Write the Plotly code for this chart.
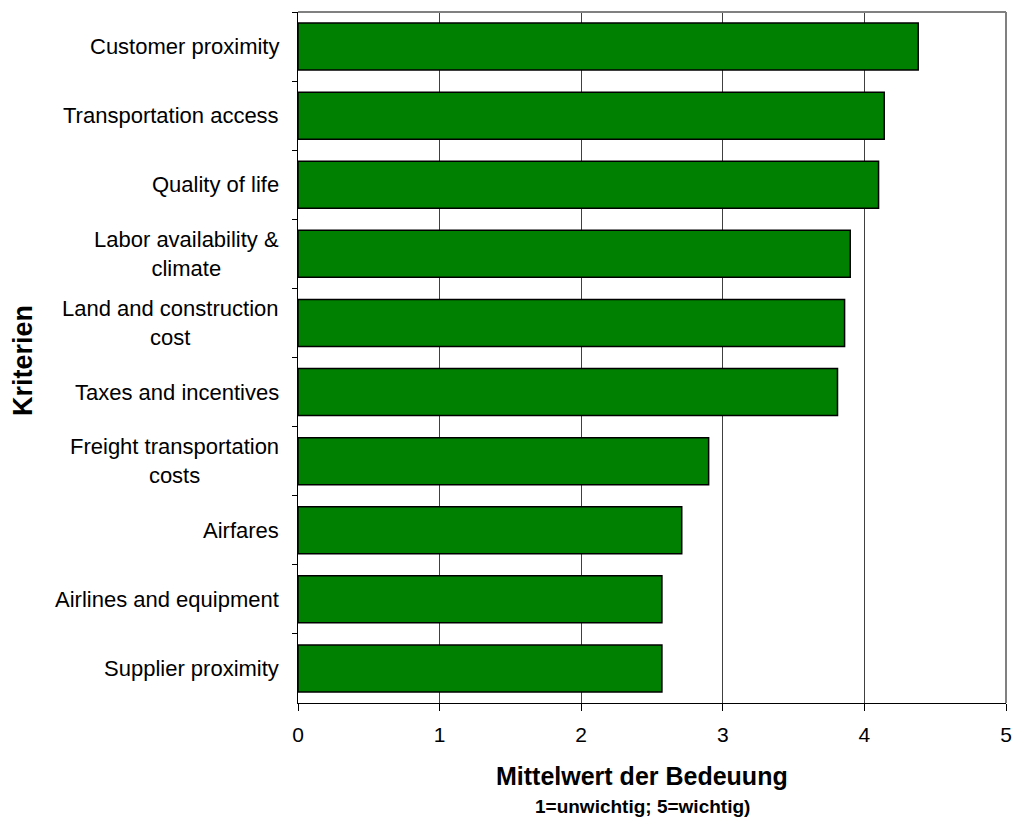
import plotly.graph_objects as go

# Criteria, top to bottom
criteria = [
    "Customer proximity",
    "Transportation access",
    "Quality of life",
    "Labor availability &<br>climate",
    "Land and construction<br>cost",
    "Taxes and incentives",
    "Freight transportation<br>costs",
    "Airfares",
    "Airlines and equipment",
    "Supplier proximity",
]
# Mean importance (1 = unimportant, 5 = important)
mean_values = [4.38, 4.14, 4.10, 3.90, 3.86, 3.81, 2.90, 2.71, 2.57, 2.57]
x_ticks = [0, 1, 2, 3, 4, 5]

FONT = "Liberation Sans, Arial, sans-serif"

fig = go.Figure()
fig.add_trace(go.Bar(
    x=mean_values,
    y=criteria,
    orientation="h",
    marker=dict(color="#008000", line=dict(color="#000000", width=1.5)),
    hoverinfo="x+y",
))

# Category labels, centred line by line and right-aligned to the axis
for c in criteria:
    fig.add_annotation(
        x=0, xref="paper", y=c, yref="y",
        text=c, showarrow=False, xanchor="right", yanchor="middle",
        align="center", xshift=-17,
        font=dict(family=FONT, size=22, color="#000000"),
    )

# Grey frame on top and right of the plotting area
fig.add_shape(type="line", xref="paper", yref="paper", x0=0, x1=1, y0=1, y1=1,
              line=dict(color="#808080", width=2))
fig.add_shape(type="line", xref="paper", yref="paper", x0=1, x1=1, y0=0, y1=1,
              line=dict(color="#808080", width=2))

# Axis titles
fig.add_annotation(
    x=0.486, xref="paper", y=-0.105, yref="paper",
    text="<b>Mittelwert der Bedeuung</b>", showarrow=False,
    xanchor="center", yanchor="middle",
    font=dict(family=FONT, size=25, color="#000000"),
)
fig.add_annotation(
    x=0.486, xref="paper", y=-0.15, yref="paper",
    text="<b>1=unwichtig; 5=wichtig)</b>", showarrow=False,
    xanchor="center", yanchor="middle",
    font=dict(family=FONT, size=19, color="#000000"),
)
fig.add_annotation(
    x=0, xref="paper", xshift=-275, y=0.495, yref="paper",
    text="<b>Kriterien</b>", showarrow=False, textangle=-90,
    xanchor="center", yanchor="middle",
    font=dict(family=FONT, size=27, color="#000000"),
)

fig.update_layout(
    width=1015, height=820,
    margin=dict(l=298, r=9, t=12, b=117),
    paper_bgcolor="white", plot_bgcolor="white",
    bargap=0.32,
    showlegend=False,
    font=dict(family=FONT, size=21, color="#000000"),
    xaxis=dict(
        range=[0, 5], tickvals=x_ticks, ticks="outside", ticklen=7,
        tickcolor="#000000", showline=True, linecolor="#000000", linewidth=1,
        showgrid=True, gridcolor="#404040", gridwidth=1, zeroline=False,
        automargin=False, ticklabelstandoff=6,
        tickfont=dict(family=FONT, size=21, color="#000000"),
    ),
    yaxis=dict(
        autorange="reversed", type="category",
        ticks="outside", ticklen=5, tickson="boundaries", tickcolor="#000000",
        showticklabels=False, showline=True, linecolor="#000000", linewidth=1,
        showgrid=False, zeroline=False, automargin=False,
    ),
)

fig.write_html("out.html")
